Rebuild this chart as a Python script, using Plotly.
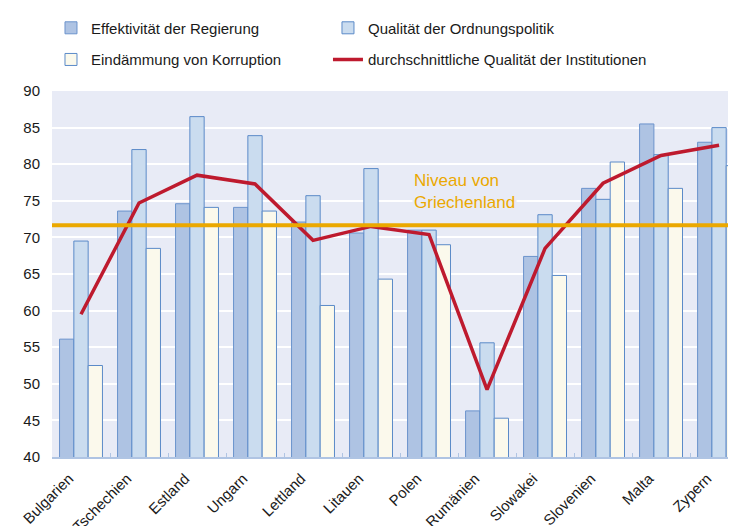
import plotly.graph_objects as go

countries = ["Bulgarien", "Tschechien", "Estland", "Ungarn", "Lettland", "Litauen",
             "Polen", "Rumänien", "Slowakei", "Slovenien", "Malta", "Zypern"]
effektivitaet = [56.1, 73.6, 74.6, 74.1, 72.1, 70.6, 71.0, 46.3, 67.4, 76.7, 85.5, 83.0]
ordnungspolitik = [69.5, 82.0, 86.5, 83.9, 75.7, 79.4, 71.0, 55.6, 73.1, 75.2, 81.3, 85.0]
korruption = [52.5, 68.5, 74.1, 73.6, 60.7, 64.3, 69.0, 45.3, 64.8, 80.3, 76.7, 79.8]
durchschnitt = [59.5, 74.7, 78.5, 77.3, 69.6, 71.5, 70.4, 49.2, 68.5, 77.4, 81.2, 82.6]
griechenland = 71.65

BORDER = "#5B8AC8"
PLOTBG = "#E8EBF6"
TXT = "#1A1A1A"
LEGFONT = dict(family="Liberation Sans, Arial", size=15, color=TXT)

fig = go.Figure()
fig.add_trace(go.Bar(x=countries, y=effektivitaet, name="Effektivität der Regierung",
                     marker=dict(color="#AEC3E3", line=dict(color="#6B93CC", width=1)),
                     legend="legend", showlegend=True))
fig.add_trace(go.Bar(x=countries, y=ordnungspolitik, name="Qualität der Ordnungspolitik",
                     marker=dict(color="#CADCEF", line=dict(color=BORDER, width=1)),
                     legend="legend2", showlegend=True))
fig.add_trace(go.Bar(x=countries, y=korruption, name="Eindämmung von Korruption",
                     marker=dict(color="#FBF9EC", line=dict(color=BORDER, width=1)),
                     legend="legend3", showlegend=True))
fig.add_trace(go.Scatter(x=countries, y=durchschnitt, mode="lines",
                         name="durchschnittliche Qualität der Institutionen",
                         line=dict(color="#BE1A2E", width=3.5), legend="legend4", showlegend=True))

fig.add_shape(type="line", xref="paper", x0=0, x1=1, yref="y", y0=griechenland, y1=griechenland,
              line=dict(color="#EBA800", width=4), layer="above")

fig.add_annotation(text="Niveau von<br>Griechenland", xref="paper", x=0.520, yref="y", y=79.34,
                   xanchor="left", yanchor="top", align="left", showarrow=False,
                   font=dict(family="Liberation Sans, Arial", size=17, color="#EBA800"),
                   bgcolor=PLOTBG, borderpad=1)


def leg(x, y):
    return dict(orientation="h", x=x, y=y, xanchor="left", yanchor="middle", visible=True,
                font=LEGFONT, bgcolor="rgba(0,0,0,0)", itemclick=False, itemdoubleclick=False)


COL1, COL2 = -0.00145, 0.3988
ROW1, ROW2 = 1.172, 1.0855

fig.update_layout(
    width=736, height=526,
    margin=dict(l=44, r=0, t=83, b=77),
    paper_bgcolor="white", plot_bgcolor=PLOTBG,
    showlegend=True,
    barmode="group", bargap=0.26, bargroupgap=0,
    font=dict(family="Liberation Sans, Arial", size=15, color=TXT),
    legend=leg(COL1, ROW1),
    legend2=leg(COL2, ROW1),
    legend3=leg(COL1, ROW2),
    legend4=leg(COL2, ROW2),
    xaxis=dict(type="category", range=[-0.5, 11.43], showgrid=False, showline=True,
               linecolor="#AFC4E3", linewidth=2, ticks="inside", tickson="boundaries",
               ticklen=4, tickcolor="#AFC4E3", tickangle=-45, ticklabelshift=-12,
               ticklabelstandoff=5,
               tickfont=dict(size=15, color=TXT), automargin=False),
    yaxis=dict(range=[40, 90], dtick=5, showgrid=True, gridcolor="white", gridwidth=2,
               zeroline=False, showline=False, ticks="outside", ticklen=8,
               tickcolor="rgba(0,0,0,0)", tickfont=dict(size=15, color=TXT),
               automargin=False),
)

fig.write_html("out.html")
